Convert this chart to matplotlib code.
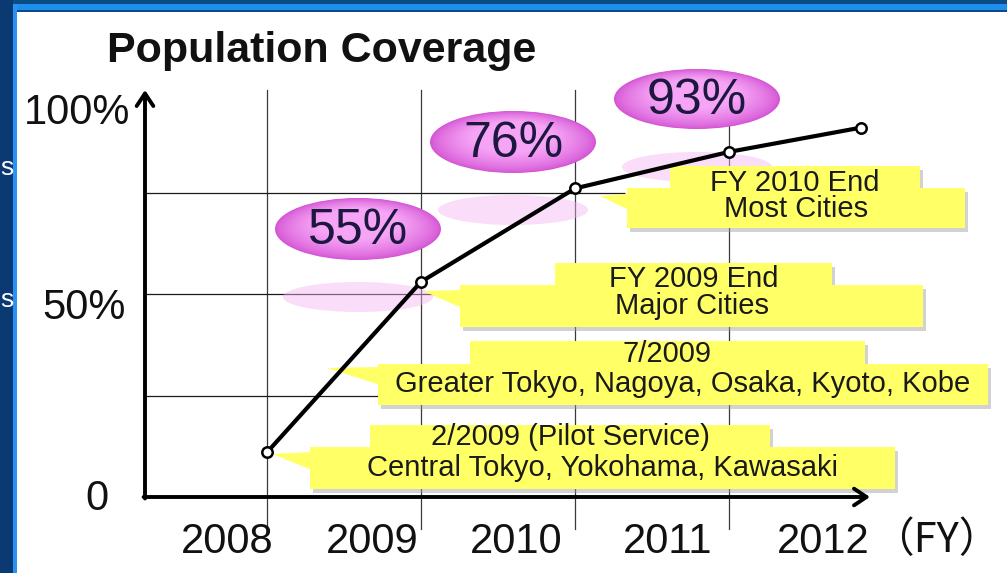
import matplotlib.pyplot as plt
from matplotlib.patches import Rectangle, Ellipse, Polygon
import matplotlib.colors as mcolors

plt.rcParams['font.family'] = ['Liberation Sans', 'DejaVu Sans']

# population coverage by fiscal year
years = ['2008', '2009', '2010', '2011', '2012']
fy_pos = [2008.0, 2009.0, 2010.0, 2011.0, 2011.86]
coverage = [11, 53, 76, 85, 91]

grid_years = [2008, 2009, 2010, 2011]
grid_levels = [25, 50, 75]
y_labels = ['0', '50%', '100%']
bubble_labels = ['55%', '76%', '93%']
callout_text = [
    ('2/2009 (Pilot Service)', 'Central Tokyo, Yokohama, Kawasaki'),
    ('7/2009', 'Greater Tokyo, Nagoya, Osaka, Kyoto, Kobe'),
    ('FY 2009 End', 'Major Cities'),
    ('FY 2010 End', 'Most Cities'),
]

W, H = 1007, 573
# layout: 2008 sits at px 267 with 154 px per year, 0% at px 497 with 4.06 px per %
X0, SX = 267, 154
Y0, SY = 497, 4.06


def P(x, y):
    return 2008 + (x - X0) / SX, (Y0 - y) / SY


fig = plt.figure(figsize=(W / 100, H / 100), dpi=100)
ax = fig.add_axes([0, 0, 1, 1])
ax.set_xlim(P(0, 0)[0], P(W, 0)[0])
ax.set_ylim(P(0, H)[1], P(0, 0)[1])
ax.axis('off')


def frame_rect(x, y, w, h, color):
    fig.add_artist(Rectangle((x / W, 1 - (y + h) / H), w / W, h / H,
                             transform=fig.transFigure, color=color, lw=0, zorder=10))


# slide frame
frame_rect(0, 0, W, 4, '#0b4c86')
frame_rect(0, 4, W, 6, '#1f8fee')
frame_rect(0, 10, W, 1.5, '#0a4a88')
frame_rect(0, 0, 13, H, '#0b3a72')
frame_rect(13, 4, 3.5, H, '#2a92f2')
fig.text(0.5 / W, 1 - 168 / H, 's', color='white', fontsize=19, va='center', zorder=11)
fig.text(0.5 / W, 1 - 300 / H, 's', color='white', fontsize=19, va='center', zorder=11)

# grid
for g in grid_years:
    ax.plot([g, g], [P(0, 529)[1], P(0, 90)[1]], color='#3a3a3a', lw=0.9, zorder=1)
ax.hlines(grid_levels, P(145, 0)[0], P(625, 0)[0], color='#1a1a1a', lw=0.9, zorder=1)

# axes with arrows
arrow = dict(arrowstyle='->,head_length=0.45,head_width=0.3', lw=2.8, color='black',
             mutation_scale=20, shrinkA=0, shrinkB=0)
ax.annotate('', xy=P(145, 90), xytext=P(145, 498.5), arrowprops=arrow, zorder=6)
ax.annotate('', xy=P(870, 497), xytext=P(143.6, 497), arrowprops=arrow, zorder=6)

# tick labels
ylab_px = [(97, 499), (84, 308), (77, 113)]
for lbl, (x, y) in zip(y_labels, ylab_px):
    ax.text(*P(x, y), lbl, fontsize=30, ha='center', va='center', color='#111111')
xlab_px = [227, 372, 516, 668, 823]
for lbl, x in zip(years, xlab_px):
    ax.text(*P(x, 542), lbl, fontsize=30, ha='center', va='center', color='#111111')
ax.text(*P(872, 541), '（FY）', fontsize=30, ha='left', va='center', color='#111111',
        family=['Noto Sans CJK JP', 'Liberation Sans'])

ax.text(*P(322, 51), 'Population Coverage', fontsize=31, fontweight='bold',
        ha='center', va='center', color='#111111')

# bubbles with faint reflections
bubble_px = [(358, 229, 166, 62), (513, 142, 166, 62), (697, 99, 166, 60)]
outer = mcolors.to_rgb('#d455d4')
inner = mcolors.to_rgb('#f6a4f6')
for lbl, (cx, cy, w, h) in zip(bubble_labels, bubble_px):
    ax.add_patch(Ellipse(P(cx, cy + 68), 150 / SX, 30 / SY, color='#f2b4f2',
                         alpha=0.45, lw=0, zorder=1.5))
    n = 24
    for i in range(n):
        t = i / (n - 1)
        c = [o + (q - o) * t ** 0.7 for o, q in zip(outer, inner)]
        s = 1 - 0.5 * t
        ax.add_patch(Ellipse(P(cx, cy - 5 * t), w * s / SX, h * s / SY,
                             color=c, lw=0, zorder=2))
    ax.text(*P(cx, cy + 2), lbl, fontsize=36, ha='center', va='center',
            color='#1c1840', zorder=3)

# callouts: top part, bottom part, pointer, text rows
callout_px = [
    dict(top=(370, 770, 425, 449), bot=(310, 895, 447, 489), tip=(272, 454), base=(310, 452, 470), rows=(437, 468)),
    dict(top=(470, 865, 341, 366), bot=(378, 988, 364, 405), tip=(327, 368), base=(378, 367, 385), rows=(354, 384)),
    dict(top=(555, 832, 263, 287), bot=(460, 923, 285, 327), tip=(423, 291), base=(460, 290, 308), rows=(279, 306)),
    dict(top=(670, 920, 166, 190), bot=(627, 965, 188, 228), tip=(600, 196), base=(627, 194, 210), rows=(183, 209)),
]
yellow = '#ffff66'
for (l1, l2), c in zip(callout_text, callout_px):
    for key in ('top', 'bot'):
        x0, x1, y0, y1 = c[key]
        ax.add_patch(Rectangle(P(x0 + 3, y1 + 4), (x1 - x0) / SX, (y1 - y0) / SY,
                               color='#9c9c9c', alpha=0.45, lw=0, zorder=3.5))
    for key in ('top', 'bot'):
        x0, x1, y0, y1 = c[key]
        ax.add_patch(Rectangle(P(x0, y1), (x1 - x0) / SX, (y1 - y0) / SY,
                               color=yellow, lw=0, zorder=4))
    bx, by0, by1 = c['base']
    ax.add_patch(Polygon([P(*c['tip']), P(bx + 2, by0), P(bx + 2, by1)],
                         closed=True, color=yellow, lw=0, zorder=4))
    tx = (c['top'][0] + c['top'][1]) / 2
    bxc = (c['bot'][0] + c['bot'][1]) / 2
    ax.text(*P(tx, c['rows'][0]), l1, fontsize=21, ha='center', va='center',
            color='#1a1a1a', zorder=4.5)
    ax.text(*P(bxc, c['rows'][1]), l2, fontsize=21, ha='center', va='center',
            color='#1a1a1a', zorder=4.5)

# coverage line
ax.plot(fy_pos, coverage, color='black', lw=3, marker='o', ms=7.5,
        mfc='white', mec='black', mew=1.8, zorder=5)

fig.savefig('out.png', dpi=100)
